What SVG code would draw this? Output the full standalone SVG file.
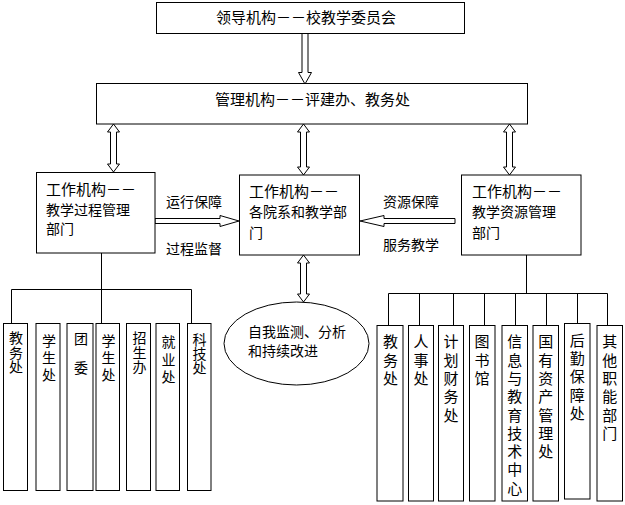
<svg xmlns="http://www.w3.org/2000/svg" width="625" height="505" viewBox="0 0 625 505">
<style>
.box{fill:#fff;stroke:#000;stroke-width:1}
.arr{fill:#fff;stroke:#000;stroke-width:1}
.ln{fill:none;stroke:#000;stroke-width:1}
text{font-family:"Noto Sans CJK SC","Noto Sans CJK JP",sans-serif;fill:#000}
.t15{font-size:15px}
.t14{font-size:14px}
.v{font-size:14px;writing-mode:vertical-rl;text-orientation:upright}
.vr{font-size:15px;writing-mode:vertical-rl;text-orientation:upright;letter-spacing:3.3px}
</style>
<rect width="625" height="505" fill="#fff"/>
<g id="connectors">
  <polygon class="arr" points="302,33.5 308,33.5 308,72.5 311.5,72.5 305,84 298.5,72.5 302,72.5"/>
  <polygon class="arr" points="113.5,124 119.5,132 116.5,132 116.5,164 119.5,164 113.5,172 107.5,164 110.5,164 110.5,132 107.5,132"/>
  <polygon class="arr" points="303.5,124 309.5,132 306.5,132 306.5,167 309.5,167 303.5,175 297.5,167 300.5,167 300.5,132 297.5,132"/>
  <polygon class="arr" points="509.5,124 515.5,132 512.5,132 512.5,167 515.5,167 509.5,175 503.5,167 506.5,167 506.5,132 503.5,132"/>
  <polygon class="arr" points="303.5,255 309.5,263 306.5,263 306.5,294 309.5,294 303.5,302 297.5,294 300.5,294 300.5,263 297.5,263"/>
  <polygon class="arr" points="155,218.5 220,218.5 220,215.5 239,221 220,226.5 220,223.5 155,223.5"/>
  <polygon class="arr" points="455,218.5 384,218.5 384,215.5 360,221 384,226.5 384,223.5 455,223.5"/>
  <path class="ln" d="M101.5,253 V323 M11.5,289.5 H191.5 M11.5,289.5 V323 M191.5,289.5 V323"/>
  <path class="ln" d="M526.5,255 V293.5 M388.5,293.5 H607.5 M388.5,293.5 V325 M419.5,293.5 V325 M453.5,293.5 V325 M484.5,293.5 V325 M515.5,293.5 V325 M546.5,293.5 V325 M577.5,293.5 V323 M607.5,293.5 V325"/>
</g>
<g id="label-yunxing"><text class="t14" x="166" y="207.3">运行保障</text></g>
<g id="label-guocheng"><text class="t14" x="166" y="254.3">过程监督</text></g>
<g id="label-ziyuan"><text class="t14" x="383" y="207">资源保障</text></g>
<g id="label-fuwu"><text class="t14" x="383" y="250.3">服务教学</text></g>
<g id="node-lingdao">
  <rect class="box" x="156.5" y="2.5" width="308" height="31"/>
  <text class="t15" x="216" y="22.7">领导机构－－校教学委员会</text>
</g>
<g id="node-guanli">
  <rect class="box" x="96.5" y="83.5" width="431" height="40.5"/>
  <text class="t15" x="215" y="105">管理机构－－评建办、教务处</text>
</g>
<g id="node-left">
  <rect class="box" x="36.5" y="172.5" width="118.5" height="80.5"/>
  <text class="t15" x="46" y="195">工作机构－－</text>
  <text class="t14" x="46" y="215">教学过程管理</text>
  <text class="t14" x="46" y="234">部门</text>
</g>
<g id="node-center">
  <rect class="box" x="239.5" y="175" width="120" height="80"/>
  <text class="t15" x="249" y="197.4">工作机构－－</text>
  <text class="t14" x="249" y="217">各院系和教学部</text>
  <text class="t14" x="249" y="238.3">门</text>
</g>
<g id="node-right">
  <rect class="box" x="461.5" y="175" width="119.5" height="80"/>
  <text class="t15" x="472" y="196.7">工作机构－－</text>
  <text class="t14" x="472" y="217">教学资源管理</text>
  <text class="t14" x="472" y="238">部门</text>
</g>
<g id="node-ellipse">
  <ellipse class="box" cx="296.5" cy="343.5" rx="72.5" ry="41.5"/>
  <text class="t14" x="248" y="336.5">自我监测、分析</text>
  <text class="t14" x="248" y="356">和持续改进</text>
</g>
<g id="node-l1">
  <rect class="box" x="3.5" y="323.5" width="24" height="167"/>
  <text class="v" x="16" y="331" style="letter-spacing:0.5px">教务处</text>
</g>
<g id="node-l2">
  <rect class="box" x="36" y="323.5" width="24" height="167"/>
  <text class="v" x="49" y="334" style="letter-spacing:3px">学生处</text>
</g>
<g id="node-l3">
  <rect class="box" x="67" y="323.5" width="26" height="167"/>
  <text class="v" x="81" y="332" style="letter-spacing:15px">团委</text>
</g>
<g id="node-l4">
  <rect class="box" x="96" y="323.5" width="23.5" height="167"/>
  <text class="v" x="108.5" y="334" style="letter-spacing:3px">学生处</text>
</g>
<g id="node-l5">
  <rect class="box" x="126.5" y="323.5" width="24" height="167"/>
  <text class="v" x="139.5" y="331" style="letter-spacing:0.5px">招生办</text>
</g>
<g id="node-l6">
  <rect class="box" x="156" y="323.5" width="23.5" height="167"/>
  <text class="v" x="168.5" y="335" style="letter-spacing:3.5px">就业处</text>
</g>
<g id="node-l7">
  <rect class="box" x="187.5" y="323.5" width="23.5" height="167"/>
  <text class="v" x="199.5" y="332.3" style="letter-spacing:0.4px">科技处</text>
</g>
<g id="node-r1">
  <rect class="box" x="377" y="325.5" width="26" height="175.5"/>
  <text class="vr" x="390.5" y="334.2">教务处</text>
</g>
<g id="node-r2">
  <rect class="box" x="408.5" y="325.5" width="25" height="175.5"/>
  <text class="vr" x="421" y="334.2">人事处</text>
</g>
<g id="node-r3">
  <rect class="box" x="438.5" y="325.5" width="25" height="175.5"/>
  <text class="vr" x="451" y="334.2">计划财务处</text>
</g>
<g id="node-r4">
  <rect class="box" x="469.5" y="325.5" width="25.5" height="175.5"/>
  <text class="vr" x="482" y="334.2">图书馆</text>
</g>
<g id="node-r5">
  <rect class="box" x="502" y="325.5" width="25.5" height="175.5"/>
  <text class="vr" x="514.7" y="334.2">信息与教育技术中心</text>
</g>
<g id="node-r6">
  <rect class="box" x="533" y="325.5" width="25.5" height="175.5"/>
  <text class="vr" x="545.7" y="334.2">国有资产管理处</text>
</g>
<g id="node-r7">
  <rect class="box" x="564.5" y="323.5" width="25.5" height="175.5"/>
  <text class="vr" x="577.2" y="332.5">后勤保障处</text>
</g>
<g id="node-r8">
  <rect class="box" x="597" y="325.5" width="25.5" height="175.5"/>
  <text class="vr" x="609.7" y="334.2">其他职能部门</text>
</g>
</svg>
